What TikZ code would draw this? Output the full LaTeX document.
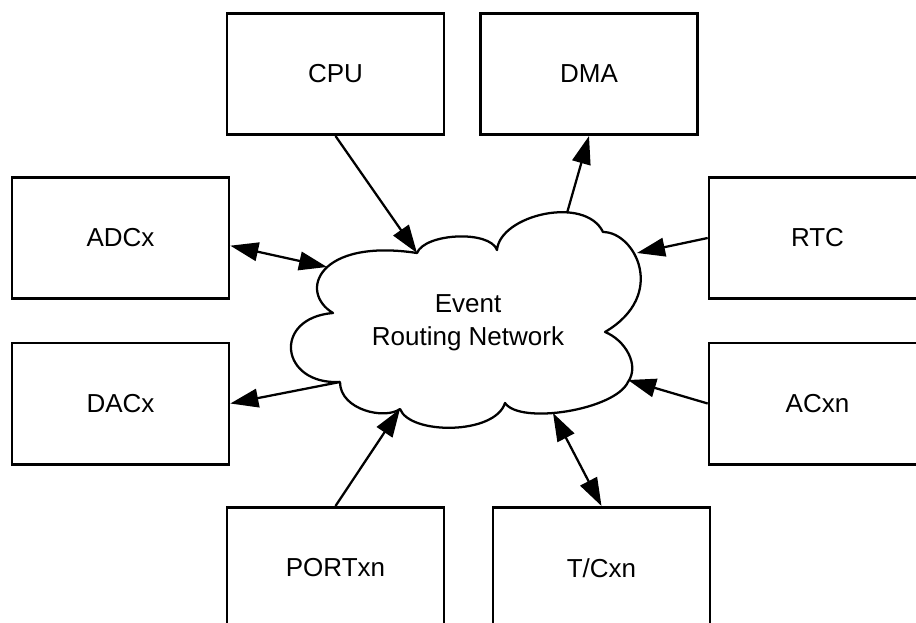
\documentclass[tikz,border=0pt]{standalone}
\usepackage{fontspec}
\setmainfont{Liberation Sans}
\usetikzlibrary{arrows.meta}

\tikzset{
  block/.style={draw=black, line width=2pt, fill=white, inner sep=0pt,
    minimum width=162.75pt, minimum height=91pt,
    font=\fontsize{19.5}{24}\selectfont},
  tip/.style={Triangle[length=21pt,width=14pt]},
  link/.style={line width=1.7pt, -{Triangle[length=21pt,width=14pt]}},
  dlink/.style={line width=1.7pt, {Triangle[length=21pt,width=14pt]}-{Triangle[length=21pt,width=14pt]}},
  cloudline/.style={draw=black, line width=1.7pt, fill=white, line join=round}
}

\begin{document}
\begin{tikzpicture}[x=0.75pt, y=-0.75pt]
  \useasboundingbox (0,0) rectangle (916,623);
  \clip (0,0) rectangle (916,623);

  % peripheral blocks
  \node[block] (CPU)    at (335.5,74)    {CPU};
  \node[block] (DMA)    at (589,74)      {DMA};
  \node[block] (ADCx)   at (120.5,238)   {ADCx};
  \node[block] (RTC)    at (817.5,238)   {RTC};
  \node[block] (DACx)   at (120.5,403.5) {DACx};
  \node[block] (ACxn)   at (817.5,403.5) {ACxn};
  \node[block] (PORTxn) at (335.5,568)   {PORTxn};
  \node[block] (TCxn)   at (601.5,568)   {T/Cxn};

  % event routing cloud
  \path[cloudline]
    (417,253) .. controls (425,233) and (490,230) .. (497,250)
              .. controls (500,215) and (585,195) .. (603,232)
              .. controls (635,232) and (668,295) .. (605,332)
              .. controls (625,340) and (640,365) .. (628,382)
              .. controls (615,410) and (520,425) .. (505,403)
              .. controls (495,435) and (410,435) .. (400,409)
              .. controls (385,420) and (340,410) .. (340,382)
              .. controls (280,385) and (272,318) .. (333,313)
              .. controls (298,292) and (318,238) .. (417,253) -- cycle;
  \node[align=center, font=\fontsize{19.5}{24.75}\selectfont] (net) at (468,323)
    {Event\\Routing Network};

  % attachment points on the cloud outline
  \coordinate (nCPU)  at (417,253);
  \coordinate (nDMA)  at (567,213);
  \coordinate (nADC)  at (327,267);
  \coordinate (nRTC)  at (637,253);
  \coordinate (nDAC)  at (340,382);
  \coordinate (nAC)   at (628,380);
  \coordinate (nPORT) at (400,409);
  \coordinate (nTC)   at (553,413);

  % connectors
  \draw[link]  (CPU.south)  -- (nCPU);
  \draw[link]  (nDMA)       -- (DMA.south);
  \draw[dlink] (ADCx.-4)    -- (nADC);
  \draw[link]  (RTC.west)   -- (nRTC);
  \draw[link]  (nDAC)       -- (DACx.east);
  \draw[link]  (ACxn.west)  -- (nAC);
  \draw[link]  (PORTxn.north) -- (nPORT);
  \draw[dlink] (nTC)        -- (TCxn.north);
\end{tikzpicture}
\end{document}
